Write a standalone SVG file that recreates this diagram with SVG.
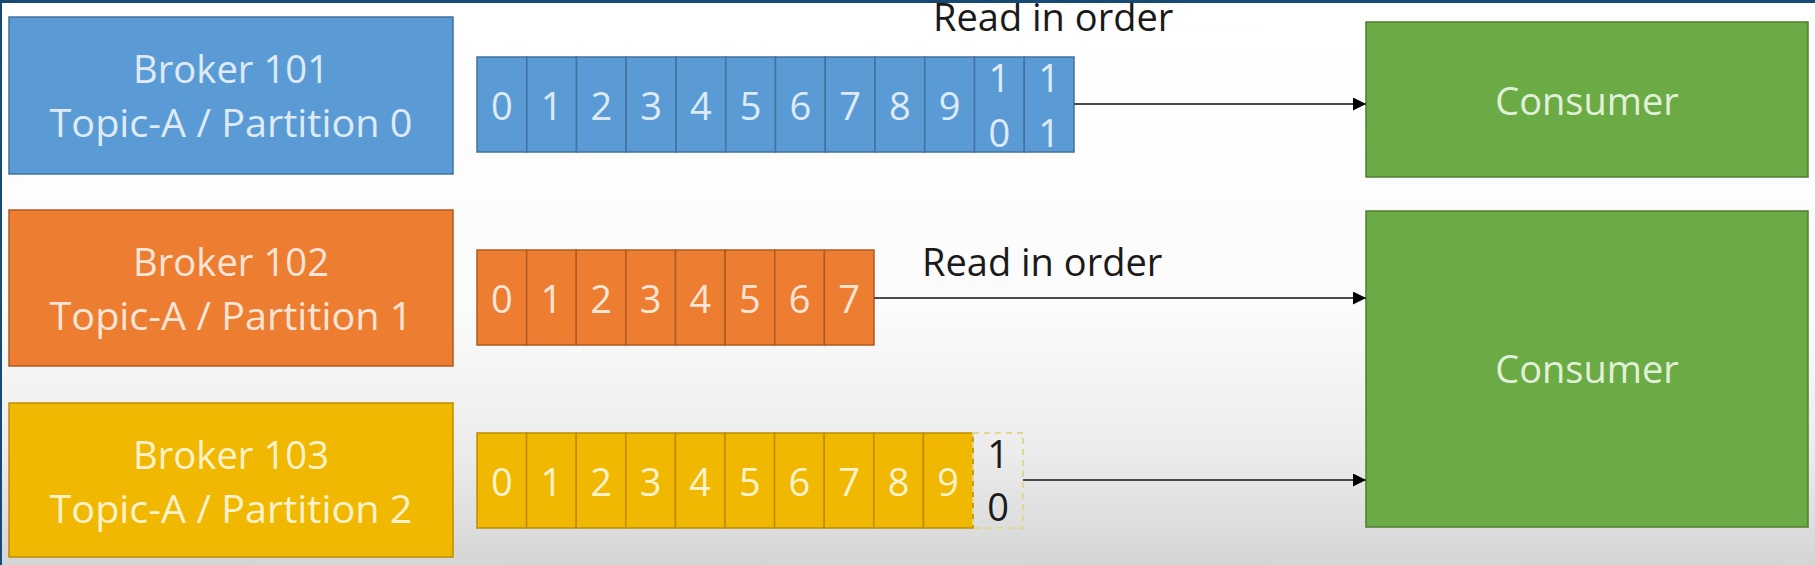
<svg xmlns="http://www.w3.org/2000/svg" width="1815" height="565" viewBox="0 0 1815 565">
  <defs>
    <linearGradient id="bg" x1="0" y1="0" x2="0" y2="1">
      <stop offset="0" stop-color="#ffffff"/>
      <stop offset="0.55" stop-color="#fbfbfb"/>
      <stop offset="0.8" stop-color="#ececec"/>
      <stop offset="1" stop-color="#d5d5d5"/>
    </linearGradient>
    <marker id="arrow" viewBox="0 0 10 10" refX="10" refY="5" markerWidth="15" markerHeight="13" markerUnits="userSpaceOnUse" orient="auto">
      <path d="M0,0 L10,5 L0,10 Z" fill="#000"/>
    </marker>
  </defs>
  <style>
    text { font-family: "Open Sans", "Liberation Sans", sans-serif; }
    .lbl { font-size: 38px; text-anchor: middle; }
    .dig { font-size: 38px; text-anchor: middle; }
    .note { font-size: 38px; fill: #1a1a1a; }
    .cons { font-size: 38px; text-anchor: middle; fill: #e2f0d9; }
    .blue { fill: #5b9bd5; stroke: #41719c; stroke-width: 1.5; }
    .orange { fill: #ed7d31; stroke: #ae5a21; stroke-width: 1.5; }
    .yellow { fill: #f0b800; stroke: #bc8c00; stroke-width: 1.5; }
    .green { fill: #6aab45; stroke: #507e32; stroke-width: 1.5; }
    .tb { fill: #deebf7; }
    .to { fill: #fbe5d6; }
    .ty { fill: #fff2cc; }
    .conn { stroke: #4a4a4a; stroke-width: 2; fill: none; marker-end: url(#arrow); }
  </style>

  <rect x="0" y="0" width="1815" height="565" fill="url(#bg)"/>

  <g id="broker101">
    <rect class="blue" x="9" y="17" width="444" height="157"/>
    <text class="lbl tb" x="231" y="83" textLength="196" lengthAdjust="spacingAndGlyphs">Broker 101</text>
    <text class="lbl tb" x="231" y="137" textLength="363" lengthAdjust="spacingAndGlyphs">Topic-A / Partition 0</text>
  </g>
  <g id="broker102">
    <rect class="orange" x="9" y="210" width="444" height="156"/>
    <text class="lbl to" x="231" y="276" textLength="196" lengthAdjust="spacingAndGlyphs">Broker 102</text>
    <text class="lbl to" x="231" y="330" textLength="363" lengthAdjust="spacingAndGlyphs">Topic-A / Partition 1</text>
  </g>
  <g id="broker103">
    <rect class="yellow" x="9" y="403" width="444" height="154"/>
    <text class="lbl ty" x="231" y="469" textLength="196" lengthAdjust="spacingAndGlyphs">Broker 103</text>
    <text class="lbl ty" x="231" y="523" textLength="363" lengthAdjust="spacingAndGlyphs">Topic-A / Partition 2</text>
  </g>

  <g id="partition0">
    <rect class="blue" x="477" y="57" width="49.75" height="95"/>
    <rect class="blue" x="526.75" y="57" width="49.75" height="95"/>
    <rect class="blue" x="576.5" y="57" width="49.75" height="95"/>
    <rect class="blue" x="626.25" y="57" width="49.75" height="95"/>
    <rect class="blue" x="676" y="57" width="49.75" height="95"/>
    <rect class="blue" x="725.75" y="57" width="49.75" height="95"/>
    <rect class="blue" x="775.5" y="57" width="49.75" height="95"/>
    <rect class="blue" x="825.25" y="57" width="49.75" height="95"/>
    <rect class="blue" x="875" y="57" width="49.75" height="95"/>
    <rect class="blue" x="924.75" y="57" width="49.75" height="95"/>
    <rect class="blue" x="974.5" y="57" width="49.75" height="95"/>
    <rect class="blue" x="1024.25" y="57" width="49.75" height="95"/>
    <text class="dig tb" x="501.9" y="120">0</text>
    <text class="dig tb" x="551.6" y="120">1</text>
    <text class="dig tb" x="601.4" y="120">2</text>
    <text class="dig tb" x="651.1" y="120">3</text>
    <text class="dig tb" x="700.9" y="120">4</text>
    <text class="dig tb" x="750.6" y="120">5</text>
    <text class="dig tb" x="800.4" y="120">6</text>
    <text class="dig tb" x="850.1" y="120">7</text>
    <text class="dig tb" x="899.9" y="120">8</text>
    <text class="dig tb" x="949.6" y="120">9</text>
    <text class="dig tb" x="999.4" y="92">1</text>
    <text class="dig tb" x="999.4" y="147">0</text>
    <text class="dig tb" x="1049.1" y="92">1</text>
    <text class="dig tb" x="1049.1" y="147">1</text>
  </g>

  <g id="partition1">
    <rect class="orange" x="477" y="250" width="49.625" height="95"/>
    <rect class="orange" x="526.625" y="250" width="49.625" height="95"/>
    <rect class="orange" x="576.25" y="250" width="49.625" height="95"/>
    <rect class="orange" x="625.875" y="250" width="49.625" height="95"/>
    <rect class="orange" x="675.5" y="250" width="49.625" height="95"/>
    <rect class="orange" x="725.125" y="250" width="49.625" height="95"/>
    <rect class="orange" x="774.75" y="250" width="49.625" height="95"/>
    <rect class="orange" x="824.375" y="250" width="49.625" height="95"/>
    <text class="dig to" x="501.8" y="313">0</text>
    <text class="dig to" x="551.4" y="313">1</text>
    <text class="dig to" x="601.1" y="313">2</text>
    <text class="dig to" x="650.7" y="313">3</text>
    <text class="dig to" x="700.3" y="313">4</text>
    <text class="dig to" x="749.9" y="313">5</text>
    <text class="dig to" x="799.6" y="313">6</text>
    <text class="dig to" x="849.2" y="313">7</text>
  </g>

  <g id="partition2">
    <rect class="yellow" x="477" y="433" width="49.6" height="95"/>
    <rect class="yellow" x="526.6" y="433" width="49.6" height="95"/>
    <rect class="yellow" x="576.2" y="433" width="49.6" height="95"/>
    <rect class="yellow" x="625.8" y="433" width="49.6" height="95"/>
    <rect class="yellow" x="675.4" y="433" width="49.6" height="95"/>
    <rect class="yellow" x="725" y="433" width="49.6" height="95"/>
    <rect class="yellow" x="774.6" y="433" width="49.6" height="95"/>
    <rect class="yellow" x="824.2" y="433" width="49.6" height="95"/>
    <rect class="yellow" x="873.8" y="433" width="49.6" height="95"/>
    <rect class="yellow" x="923.4" y="433" width="49.6" height="95"/>
    <rect x="973" y="433" width="50" height="95" fill="none" stroke="#e0d88a" stroke-width="2" stroke-dasharray="6,5"/>
    <text class="dig ty" x="501.8" y="496">0</text>
    <text class="dig ty" x="551.4" y="496">1</text>
    <text class="dig ty" x="601" y="496">2</text>
    <text class="dig ty" x="650.6" y="496">3</text>
    <text class="dig ty" x="700.2" y="496">4</text>
    <text class="dig ty" x="749.8" y="496">5</text>
    <text class="dig ty" x="799.4" y="496">6</text>
    <text class="dig ty" x="849" y="496">7</text>
    <text class="dig ty" x="898.6" y="496">8</text>
    <text class="dig ty" x="948.2" y="496">9</text>
    <text class="dig" x="998" y="468" fill="#1a1a1a">1</text>
    <text class="dig" x="998" y="521" fill="#1a1a1a">0</text>
  </g>

  <g id="consumer1">
    <rect class="green" x="1366" y="22" width="442" height="155"/>
    <text class="cons" x="1587" y="115">Consumer</text>
  </g>
  <g id="consumer2">
    <rect class="green" x="1366" y="211" width="442" height="316"/>
    <text class="cons" x="1587" y="383">Consumer</text>
  </g>

  <g id="connectors">
    <line class="conn" x1="1074" y1="104" x2="1366" y2="104"/>
    <line class="conn" x1="874" y1="298" x2="1366" y2="298"/>
    <line class="conn" x1="1023" y1="480" x2="1366" y2="480"/>
  </g>

  <g id="labels">
    <text class="note" x="933" y="31">Read in order</text>
    <text class="note" x="922" y="276">Read in order</text>
  </g>

  <rect x="0" y="0" width="1815" height="3" fill="#164a72"/>
  <rect x="0" y="0" width="2" height="565" fill="#164a72"/>
</svg>
